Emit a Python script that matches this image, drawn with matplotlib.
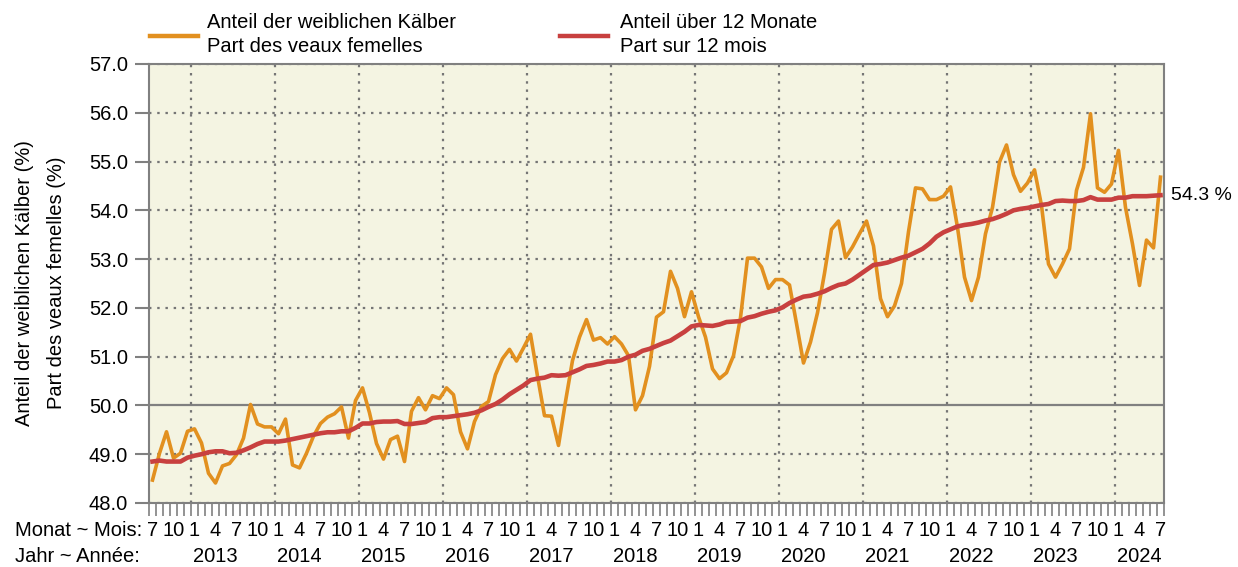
import numpy as np
import matplotlib
matplotlib.use("Agg")
import matplotlib.pyplot as plt
import matplotlib.transforms as mtransforms

plt.rcParams['font.family'] = ['Liberation Sans', 'DejaVu Sans']

# monthly series, July 2012 .. July 2024
start_year = 2012
start_month = 7

anteil = [48.47, 49.02, 49.46, 48.92, 49.02, 49.47, 49.52, 49.23, 48.61, 48.41,
          48.76, 48.81, 48.99, 49.33, 50.02, 49.62, 49.56, 49.56, 49.42, 49.72,
          48.78, 48.72, 49.02, 49.37, 49.63, 49.76, 49.83, 49.97, 49.33, 50.10,
          50.36, 49.85, 49.22, 48.90, 49.30, 49.37, 48.85, 49.88, 50.16, 49.91,
          50.20, 50.14, 50.36, 50.22, 49.46, 49.11, 49.67, 49.98, 50.08, 50.63,
          50.96, 51.15, 50.91, 51.18, 51.46, 50.60, 49.79, 49.78, 49.18, 50.08,
          50.92, 51.40, 51.76, 51.34, 51.39, 51.26, 51.41, 51.26, 51.02, 49.91,
          50.20, 50.80, 51.81, 51.92, 52.75, 52.40, 51.82, 52.33, 51.82, 51.40,
          50.75, 50.55, 50.67, 51.02, 51.80, 53.02, 53.02, 52.84, 52.40, 52.58,
          52.58, 52.47, 51.68, 50.87, 51.30, 51.90, 52.71, 53.61, 53.78, 53.03,
          53.25, 53.52, 53.78, 53.27, 52.19, 51.82, 52.04, 52.50, 53.56, 54.46,
          54.44, 54.22, 54.22, 54.29, 54.48, 53.65, 52.63, 52.15, 52.63, 53.52,
          54.06, 54.99, 55.34, 54.73, 54.39, 54.56, 54.83, 54.10, 52.90, 52.63,
          52.90, 53.21, 54.41, 54.88, 55.98, 54.46, 54.37, 54.54, 55.23, 54.06,
          53.31, 52.46, 53.39, 53.23, 54.68]

anteil_12m = [48.85, 48.87, 48.85, 48.85, 48.85, 48.93, 48.97, 49.00, 49.04, 49.06,
              49.06, 49.02, 49.03, 49.08, 49.14, 49.21, 49.26, 49.26, 49.26, 49.28,
              49.31, 49.34, 49.37, 49.40, 49.43, 49.45, 49.45, 49.47, 49.47, 49.54,
              49.63, 49.63, 49.66, 49.67, 49.67, 49.68, 49.62, 49.62, 49.64, 49.66,
              49.74, 49.76, 49.76, 49.78, 49.80, 49.82, 49.85, 49.90, 49.97, 50.03,
              50.12, 50.23, 50.32, 50.41, 50.52, 50.55, 50.57, 50.62, 50.61, 50.62,
              50.68, 50.74, 50.81, 50.83, 50.86, 50.90, 50.90, 50.93, 51.00, 51.04,
              51.12, 51.16, 51.22, 51.28, 51.33, 51.42, 51.51, 51.62, 51.65, 51.64,
              51.63, 51.66, 51.71, 51.72, 51.73, 51.80, 51.83, 51.88, 51.92, 51.95,
              52.01, 52.10, 52.17, 52.23, 52.25, 52.29, 52.34, 52.41, 52.47, 52.50,
              52.58, 52.68, 52.78, 52.88, 52.90, 52.93, 52.98, 53.03, 53.07, 53.14,
              53.21, 53.32, 53.46, 53.55, 53.61, 53.67, 53.70, 53.72, 53.75, 53.79,
              53.82, 53.87, 53.93, 54.00, 54.03, 54.05, 54.08, 54.11, 54.13, 54.19,
              54.20, 54.19, 54.19, 54.21, 54.27, 54.22, 54.22, 54.22, 54.26, 54.26,
              54.29, 54.29, 54.29, 54.30, 54.31]

yticks = [48.0, 49.0, 50.0, 51.0, 52.0, 53.0, 54.0, 55.0, 56.0, 57.0]
last_label = "54.3 %"

ORANGE = "#E2901F"
RED = "#C8403F"
GREY = "#808080"
GRIDC = "#757575"
FS = 14.5

n = len(anteil)
months = [(start_month - 1 + i) % 12 + 1 for i in range(n)]
years = [start_year + (start_month - 1 + i) // 12 for i in range(n)]
x = np.arange(n) + 0.5

W, H = 1238, 567
fig = plt.figure(figsize=(W / 100, H / 100), dpi=100)
ax = fig.add_axes([149 / W, 1 - 503 / H, (1164 - 149) / W, (503 - 64) / H])
ax.set_facecolor("#F4F4E2")

ax.set_xlim(0, n)
ax.set_ylim(48, 57)

# grid
for yv in yticks:
    if yv == 50.0:
        ax.axhline(yv, color=GREY, lw=1.6, zorder=1)
    else:
        ax.axhline(yv, color=GRIDC, lw=1.6, ls=(0, (1.1, 2.6)), zorder=1)
for i in range(n):
    if months[i] == 1:
        ax.axvline(i, color=GRIDC, lw=1.6, ls=(0, (1.1, 2.6)), zorder=1)

ax.plot(x, anteil, color=ORANGE, lw=2.6, zorder=3)
ax.plot(x, anteil_12m, color=RED, lw=3.3, zorder=4)

for s in ax.spines.values():
    s.set_color(GREY)
    s.set_linewidth(1.5)

ax.set_yticks(yticks)
ax.set_yticklabels([f"{v:.1f}" for v in yticks], fontsize=FS)
ax.tick_params(axis='y', length=10, width=1.5, color=GREY, pad=5)

ax.set_xticks(np.arange(n + 1), minor=True)
ax.set_xticks([])
ax.tick_params(axis='x', which='minor', length=9.5, width=1.2, color=GREY)

# month / year labels
trans = mtransforms.blended_transform_factory(ax.transData, fig.transFigure)
for i in range(n):
    if months[i] in (1, 4, 7, 10):
        ax.text(x[i], 1 - 531 / H, str(months[i]), transform=trans, ha='center',
                va='center', fontsize=FS)
    if months[i] == 4:
        ax.text(x[i], 1 - 557 / H, str(years[i]), transform=trans, ha='center',
                va='center', fontsize=FS)
fig.text(15 / W, 1 - 531 / H, "Monat ~ Mois:", ha='left', va='center', fontsize=FS)
fig.text(15 / W, 1 - 557 / H, "Jahr ~ Année:", ha='left', va='center', fontsize=FS)

# y label (two lines)
fig.text(25 / W, 1 - 283 / H, "Anteil der weiblichen Kälber (%)", rotation=90,
         ha='center', va='center', fontsize=FS)
fig.text(57 / W, 1 - 283 / H, "Part des veaux femelles (%)", rotation=90,
         ha='center', va='center', fontsize=FS)

# end label
ax.annotate(last_label, xy=(n, anteil_12m[-1]), xytext=(5, 0),
            textcoords='offset points', ha='left', va='center', fontsize=14,
            annotation_clip=False)

# legend drawn by hand
fig.add_artist(plt.Line2D([150 / W, 198 / W], [1 - 36 / H, 1 - 36 / H],
                          color=ORANGE, lw=3.2))
fig.text(207 / W, 1 - 22 / H, "Anteil der weiblichen Kälber", ha='left',
         va='center', fontsize=FS)
fig.text(207 / W, 1 - 46 / H, "Part des veaux femelles", ha='left',
         va='center', fontsize=FS)
fig.add_artist(plt.Line2D([560 / W, 608 / W], [1 - 36 / H, 1 - 36 / H],
                          color=RED, lw=3.2))
fig.text(620 / W, 1 - 22 / H, "Anteil über 12 Monate", ha='left',
         va='center', fontsize=FS)
fig.text(620 / W, 1 - 46 / H, "Part sur 12 mois", ha='left',
         va='center', fontsize=FS)

fig.savefig("out.png", dpi=100)
